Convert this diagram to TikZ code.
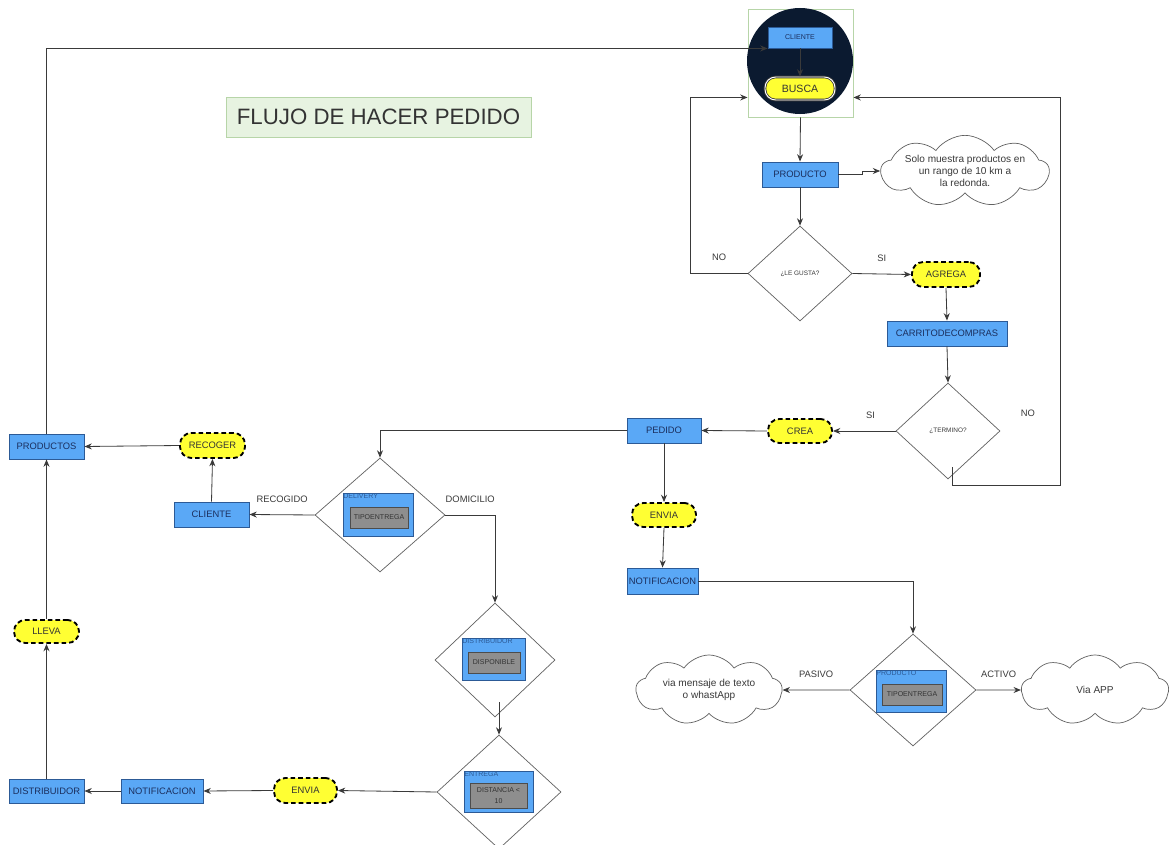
\documentclass[tikz,border=0pt]{standalone}
\usepackage{fontspec}
\setmainfont{Liberation Sans}
\usepackage{tikz}
\usetikzlibrary{calc,arrows.meta,positioning,shapes.geometric,shapes.symbols}
\definecolor{azul}{HTML}{5AA8F6}
\definecolor{azulb}{HTML}{2C5A96}
\definecolor{azult}{HTML}{1B2F5E}
\definecolor{amar}{HTML}{FFFF33}
\definecolor{grisf}{HTML}{8E8E8E}
\definecolor{marino}{HTML}{0B1A30}
\definecolor{verde}{HTML}{B7D5A8}
\definecolor{verdef}{HTML}{E7F3E1}
\definecolor{linea}{HTML}{3A3A3A}
\tikzset{
  caja/.style={rectangle, draw=azulb, fill=azul, line width=0.8pt, text=azult, font=\fontsize{8}{9}\selectfont, inner sep=1pt, minimum height=0.75cm},
  accion/.style={rectangle, rounded corners=3.4mm, draw=black, fill=amar, line width=1.6pt, dash pattern=on 4pt off 2.5pt, text=black!80, font=\fontsize{8}{9}\selectfont, inner sep=1pt, minimum height=0.75cm},
  decision/.style={diamond, draw=linea!80, fill=white, line width=0.6pt, text=linea, font=\fontsize{5.5}{6}\selectfont, inner sep=0pt},
  subcaja/.style={rectangle, draw=azulb, fill=azul, line width=0.8pt, inner sep=0pt},
  grisbox/.style={rectangle, draw=black!70, fill=grisf, line width=0.8pt, text=black!80, font=\fontsize{6}{7}\selectfont, inner sep=0pt, align=center},
  subetq/.style={text=azulb, font=\fontsize{6}{6}\selectfont, inner sep=0.5pt, anchor=north west},
  nube/.style={cloud, cloud puffs=9, cloud puff arc=110, cloud ignores aspect, draw=linea!80, fill=white, line width=0.6pt, align=center, text=linea, font=\fontsize{8.6}{10}\selectfont, inner sep=0pt},
  lin/.style={draw=linea, line width=0.7pt, -{Stealth[length=2.2mm, width=1.8mm]}},
  etq/.style={text=linea, font=\fontsize{8}{9}\selectfont},
}

\begin{document}
\begin{tikzpicture}[x=0.03cm, y=-0.03cm]
\useasboundingbox (0,0) rectangle (1169,845);
\fill[white] (0,0) rectangle (1169,845);

\node[draw=verde, fill=verdef, line width=0.8pt, minimum width=9.15cm, minimum height=1.2cm, text=black!80, font=\fontsize{19}{22}\selectfont] (titulo) at (378.5,117) {FLUJO DE HACER PEDIDO};

% inicio
\node[draw=verde, line width=0.8pt, minimum width=3.15cm, minimum height=3.24cm, inner sep=0pt] (busq) at (800.5,63) {};
\node[circle, fill=marino, minimum size=3.18cm, inner sep=0pt] (circ) at (800,61) {};
\node[caja, minimum width=1.92cm, minimum height=0.63cm, font=\fontsize{6}{7}\selectfont] (cli) at (800,37.5) {CLIENTE};
\node[rectangle, rounded corners=3.2mm, draw=linea, double=white, double distance=0.8pt, line width=0.7pt, fill=amar, minimum width=2.1cm, minimum height=0.69cm, text=black!80, font=\fontsize{9}{10}\selectfont] (busca) at (800,88.5) {BUSCA};
\coordinate (inL) at ($(busq.south west)+(0,-20)$);
\coordinate (inR) at ($(busq.south east)+(0,-20)$);

\node[caja, minimum width=2.28cm] (prod) at (800,174.5) {PRODUCTO};
\node[nube, minimum width=4.35cm, minimum height=2.01cm] (nube1) at (965,171) {Solo muestra productos en\\un rango de 10 km a\\la redonda.};
\node[decision, minimum width=3.12cm, minimum height=2.85cm] (gusta) at (800,273.5) {¿LE GUSTA?};
\node[accion, minimum width=2.04cm] (agrega) at (946,274.5) {AGREGA};
\node[caja, minimum width=3.6cm] (carrito) at (947,333.5) {CARRITODECOMPRAS};
\node[decision, minimum width=3.12cm, minimum height=2.88cm] (termino) at (948,431) {¿TERMINO?};
\node[accion, minimum width=1.92cm, minimum height=0.72cm] (crea) at (800,431) {CREA};
\node[caja, minimum width=2.22cm] (pedido) at (664,430.5) {PEDIDO};
\node[accion, minimum width=1.92cm, minimum height=0.72cm] (envia1) at (664,515) {ENVIA};
\node[caja, minimum width=2.13cm, minimum height=0.78cm] (notif1) at (662.5,581) {NOTIFICACION};

% tipo de entrega del producto
\node[decision, minimum width=3.78cm, minimum height=3.36cm] (tipo) at (913,690) {};
\node[subcaja, minimum width=2.1cm, minimum height=1.26cm] (tipoA) at (911,691) {};
\node[grisbox, minimum width=1.8cm, minimum height=0.63cm] (tipoB) at (912,694.5) {TIPOENTREGA};
\node[subetq] at (tipoA.north west) {PRODUCTO};
\node[nube, minimum width=4.38cm, minimum height=2.1cm] (nube2) at (709,690) {via mensaje de texto\\o whastApp};
\node[nube, minimum width=4.41cm, minimum height=2.1cm] (nube3) at (1095,690) {Via APP};

% entrega
\node[decision, minimum width=3.9cm, minimum height=3.42cm] (deliv) at (380,515) {};
\node[subcaja, minimum width=2.1cm, minimum height=1.29cm] (delivA) at (378,514.5) {};
\node[grisbox, minimum width=1.74cm, minimum height=0.63cm] (delivB) at (379,517.5) {TIPOENTREGA};
\node[subetq] at (delivA.north west) {DELIVERY};
\node[caja, minimum width=2.25cm] (cliente) at (211.5,514.5) {CLIENTE};
\node[accion, minimum width=1.95cm] (recoger) at (212.5,445.5) {RECOGER};
\node[caja, minimum width=2.25cm] (productos) at (46.5,446.5) {PRODUCTOS};

\node[decision, minimum width=3.6cm, minimum height=3.42cm] (disp) at (495,660) {};
\node[subcaja, minimum width=1.89cm, minimum height=1.26cm] (dispA) at (493.5,659) {};
\node[grisbox, minimum width=1.56cm, minimum height=0.63cm] (dispB) at (494,662.5) {DISPONIBLE};
\node[subetq] at (dispA.north west) {DISTRIBUIDOR};

\node[decision, minimum width=3.72cm, minimum height=3.42cm] (entrega) at (499,792) {};
\node[subcaja, minimum width=2.07cm, minimum height=1.23cm] (entregaA) at (498.5,791.5) {};
\node[grisbox, minimum width=1.71cm, minimum height=0.75cm] (entregaB) at (498.5,795.5) {DISTANCIA <\\[2pt]10};
\node[subetq] at (entregaA.north west) {ENTREGA};

\node[accion, minimum width=1.89cm] (envia2) at (305.5,790.5) {ENVIA};
\node[caja, minimum width=2.46cm, minimum height=0.72cm] (notif2) at (162,791) {NOTIFICACION};
\node[caja, minimum width=2.25cm, minimum height=0.72cm] (distrib) at (46.5,791) {DISTRIBUIDOR};
\node[accion, minimum width=1.95cm, minimum height=0.69cm] (lleva) at (46.5,631.5) {LLEVA};

% conectores
\draw[lin] (productos.north) |- (cli.south west);
\draw[lin] (cli.south) -- (busca.north);
\draw[lin] (busq.south) -- (prod.north);
\draw[lin] (prod.east) -- ++(24,0) |- (nube1.west);
\draw[lin] (prod.south) -- (gusta.north);
\draw[lin] (gusta.west) -- ++(-57,0) node[etq, midway, above=7pt] {NO} |- (inL);
\draw[lin] (gusta.east) -- (agrega.west) node[etq, midway, above=7pt] {SI};
\draw[lin] (agrega.south) -- (carrito.north);
\draw[lin] (carrito.south) -- (termino.north);
\draw[lin] ($(termino.south)+(4,-12)$) -- ++(0,18) -- ++(108,0) |- (inR);
\node[etq] at (1028,413) {NO};
\draw[lin] (termino.west) -- (crea.east) node[etq, pos=0.4, above=7pt] {SI};
\draw[lin] (crea.west) -- (pedido.east);
\draw[lin] (pedido.west) -| (deliv.north);
\draw[lin] (pedido.south) -- (envia1.north);
\draw[lin] (envia1.south) -- (notif1.north);
\draw[lin] (notif1.east) -| (tipo.north);
\draw[lin] (tipo.west) -- (nube2.east) node[etq, midway, above=7pt] {PASIVO};
\draw[lin] (tipo.east) -- (nube3.west) node[etq, midway, above=7pt] {ACTIVO};
\draw[lin] (deliv.west) -- (cliente.east) node[etq, midway, above=7pt] {RECOGIDO};
\draw[lin] (cliente.north) -- (recoger.south);
\draw[lin] (recoger.west) -- (productos.east);
\draw[lin] (deliv.east) -| node[etq, pos=0.25, above=7pt] {DOMICILIO} (disp.north);
\draw[lin] ($(disp.south -| entrega.north)+(0,-15)$) -- (entrega.north);
\draw[lin] (entrega.west) -- (envia2.east);
\draw[lin] (envia2.west) -- (notif2.east);
\draw[lin] (notif2.west) -- (distrib.east);
\draw[lin] (distrib.north) -- (lleva.south);
\draw[lin] (lleva.north) -- (productos.south);
\end{tikzpicture}
\end{document}
